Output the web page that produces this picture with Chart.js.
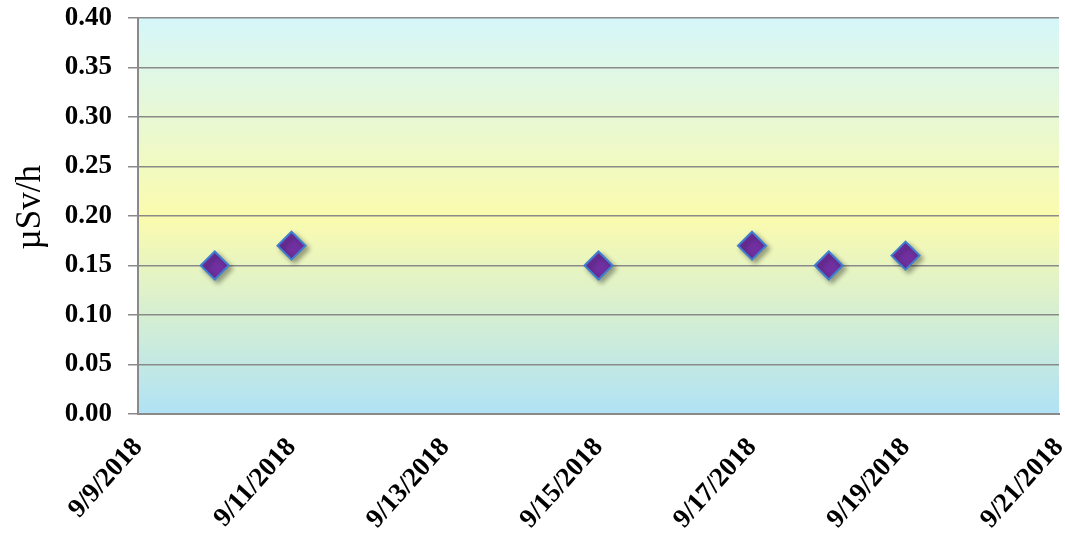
<!DOCTYPE html>
<html>
<head>
<meta charset="utf-8">
<style>
  body { margin: 0; background: #fff; }
  canvas { display: block; }
</style>
<script src="https://cdn.jsdelivr.net/npm/chart.js@4"></script>
</head>
<body>
<canvas id="myChart" width="1065" height="535"></canvas>
<script>
const sampleDates = ["9/10/2018", "9/11/2018", "9/15/2018", "9/17/2018", "9/18/2018", "9/19/2018"];
const doseValues = [0.15, 0.17, 0.15, 0.17, 0.15, 0.16];
const axisStart = "9/9/2018";
const axisEnd = "9/21/2018";
const yTicks = { min: 0, max: 0.4, step: 0.05 };

const DAY = 86400000;
const startTime = new Date(axisStart).getTime();
const toDay = (s) => Math.round((new Date(s).getTime() - startTime) / DAY);
const fmtDay = (n) => {
  const d = new Date(startTime + n * DAY);
  return `${d.getMonth() + 1}/${d.getDate()}/${d.getFullYear()}`;
};

const points = sampleDates.map((d, i) => ({ x: toDay(d), y: doseValues[i] }));

const serif = "'Liberation Serif', 'Times New Roman', serif";

const bgPlugin = {
  id: "bgGradient",
  beforeDraw(chart) {
    const { ctx, chartArea: a } = chart;
    const g = ctx.createLinearGradient(0, a.top, 0, a.bottom);
    g.addColorStop(0, "#D5F6FA");
    g.addColorStop(0.5, "#FBFBAE");
    g.addColorStop(1, "#B0E2F5");
    ctx.save();
    ctx.fillStyle = g;
    ctx.fillRect(a.left, a.top, a.right - a.left, a.bottom - a.top);
    ctx.restore();
  },
};

const shadowPlugin = {
  id: "markerShadow",
  beforeDatasetsDraw(chart) {
    const ctx = chart.ctx;
    ctx.save();
    ctx.shadowColor = "rgba(0,0,0,0.35)";
    ctx.shadowBlur = 5;
    ctx.shadowOffsetX = 3;
    ctx.shadowOffsetY = 3;
  },
  afterDatasetsDraw(chart) {
    chart.ctx.restore();
  },
};

const myChart = new Chart(document.getElementById("myChart"), {
  type: "scatter",
  data: {
    datasets: [
      {
        data: points,
        pointStyle: "rectRot",
        pointRadius: 14,
        pointHoverRadius: 14,
        backgroundColor: "#7030A0",
        borderColor: "#3F7FD0",
        borderWidth: 2,
      },
    ],
  },
  plugins: [bgPlugin, shadowPlugin],
  options: {
    responsive: false,
    animation: false,
    layout: { autoPadding: false, padding: { top: 18, right: 6, left: 0, bottom: 0 } },
    plugins: { legend: { display: false }, tooltip: { enabled: false } },
    scales: {
      x: {
        type: "linear",
        min: 0,
        max: toDay(axisEnd),
        afterFit: (s) => { s.height = 121; s.paddingLeft = 0; s.paddingRight = 0; },
        grid: { drawOnChartArea: false, drawTicks: true, tickLength: 16, tickColor: "rgba(0,0,0,0)" },
        border: { display: true, color: "#8A8A8A", width: 2 },
        ticks: {
          stepSize: 2,
          minRotation: 48,
          maxRotation: 48,
          padding: 2,
          color: "#000",
          font: { family: serif, size: 27, weight: "bold" },
          callback: (v) => fmtDay(v),
        },
      },
      y: {
        min: yTicks.min,
        max: yTicks.max,
        afterFit: (s) => { s.width = 138; s.paddingTop = 0; s.paddingBottom = 0; },
        grid: { color: "#8A8A8A", lineWidth: 1.5, tickLength: 10 },
        border: { display: true, color: "#8A8A8A", width: 2 },
        title: {
          display: true,
          text: "\u2002µSv/h",
          color: "#000",
          padding: { top: 10, bottom: 0 },
          font: { family: serif, size: 35 },
        },
        ticks: {
          stepSize: yTicks.step,
          padding: 16,
          color: "#000",
          font: { family: serif, size: 27, weight: "bold" },
          callback: (v) => v.toFixed(2),
        },
      },
    },
  },
});
</script>
</body>
</html>
